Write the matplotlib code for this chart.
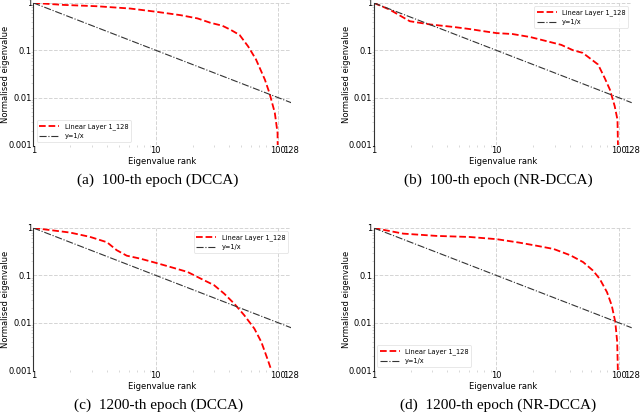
import numpy as np
import matplotlib
matplotlib.use('Agg')
import matplotlib.pyplot as plt
from matplotlib.ticker import FixedLocator, FixedFormatter, LogLocator, NullFormatter

# eigenvalue curves (rank, normalised eigenvalue)
rank_a = [1, 1.76, 3.3, 6.2, 10.3, 16, 22, 28, 35, 41, 48.5, 57, 66, 78, 85, 94, 99, 100]
val_a = [1, 0.907, 0.85, 0.76, 0.645, 0.55, 0.47, 0.38, 0.33, 0.27, 0.21, 0.12, 0.064, 0.024, 0.0125, 0.0048, 0.0018, 0.0002]

rank_b = [1, 1.35, 1.97, 2.9, 4.5, 6.1, 8.1, 10.1, 13.6, 19, 26, 34, 42.5, 51, 60, 68, 77, 85, 93, 98, 100]
val_b = [1, 0.72, 0.41, 0.35, 0.31, 0.28, 0.25, 0.23, 0.22, 0.19, 0.155, 0.13, 0.1, 0.088, 0.064, 0.05, 0.026, 0.0147, 0.0066, 0.0034, 0.0002]

rank_c = [1, 2.0, 2.9, 4.0, 4.8, 5.8, 7.5, 10.3, 13.2, 18.2, 23.4, 30, 36.3, 44, 53, 64, 73, 82, 88, 89]
val_c = [1, 0.8, 0.65, 0.5, 0.34, 0.26, 0.225, 0.18, 0.15, 0.118, 0.085, 0.062, 0.041, 0.025, 0.0143, 0.0075, 0.0039, 0.0017, 0.001, 0.0002]

rank_d = [1, 1.74, 3.26, 6.1, 10.1, 15.5, 21.6, 29.5, 40.4, 51.4, 61.6, 70, 80.5, 88, 94, 97.5, 100]
val_d = [1, 0.76, 0.68, 0.645, 0.58, 0.49, 0.42, 0.36, 0.265, 0.19, 0.127, 0.085, 0.044, 0.023, 0.0104, 0.0039, 0.0002]

ref_x = [1, 128]
x_ticks = [1, 10, 100, 128]
x_labels = ['1', '10', '100', '128']
y_ticks = [0.001, 0.01, 0.1, 1]
y_labels = ['0.001', '0.01', '0.1', '1']

captions = ['(a)  100-th epoch (DCCA)', '(b)  100-th epoch (NR-DCCA)',
            '(c)  1200-th epoch (DCCA)', '(d)  1200-th epoch (NR-DCCA)']
legend_loc = ['lower left', 'upper right', 'upper right', 'lower left']
series = [(rank_a, val_a), (rank_b, val_b), (rank_c, val_c), (rank_d, val_d)]

fig = plt.figure(figsize=(6.4, 4.13), dpi=100)
boxes = [[0.052, 0.649, 0.403, 0.344], [0.584, 0.649, 0.403, 0.344],
         [0.052, 0.104, 0.403, 0.344], [0.584, 0.104, 0.403, 0.344]]

for i in range(4):
    ax = fig.add_axes(boxes[i])
    r, v = series[i]
    ax.plot(r, v, 'r--', lw=1.3, label='Linear Layer 1_128')
    ax.plot(ref_x, [1.0 / x for x in ref_x], color='#333333', ls='-.', lw=0.8, label='y=1/x')
    ax.set_xscale('log')
    ax.set_yscale('log')
    ax.set_xlim(1, 128)
    ax.set_ylim(0.001, 1)
    ax.xaxis.set_major_locator(FixedLocator(x_ticks))
    ax.xaxis.set_major_formatter(FixedFormatter(x_labels))
    ax.yaxis.set_major_locator(FixedLocator(y_ticks))
    ax.yaxis.set_major_formatter(FixedFormatter(y_labels))
    ax.xaxis.set_minor_locator(LogLocator(base=10, subs=np.arange(2, 10)))
    ax.xaxis.set_minor_formatter(NullFormatter())
    ax.yaxis.set_minor_locator(LogLocator(base=10, subs=np.arange(2, 10)))
    ax.yaxis.set_minor_formatter(NullFormatter())
    ax.tick_params(which='major', labelsize=6, length=0, pad=1)
    ax.tick_params(which='minor', length=1.5, width=0.4, color='#bbbbbb')
    ax.grid(True, which='major', ls='--', color='#d4d4d4', lw=0.7)
    for s in ['top', 'right', 'bottom']:
        ax.spines[s].set_visible(False)
    ax.spines['left'].set_color('#333333')
    ax.spines['left'].set_linewidth(0.8)
    ax.set_xlabel('Eigenvalue rank', fontsize=6, labelpad=1)
    ax.set_ylabel('Normalised eigenvalue', fontsize=6)
    ax.yaxis.set_label_coords(-0.09, 0.5)
    leg = ax.legend(loc=legend_loc[i], fontsize=4.8, frameon=True, handlelength=3)
    leg.get_frame().set_edgecolor('#dddddd')
    leg.get_frame().set_linewidth(0.6)
    cy = boxes[i][1] - 0.085
    fig.text(boxes[i][0] + 0.195, cy, captions[i],
             ha='center', va='center', fontsize=11, family='Liberation Serif')

fig.savefig('out.png', dpi=100)
